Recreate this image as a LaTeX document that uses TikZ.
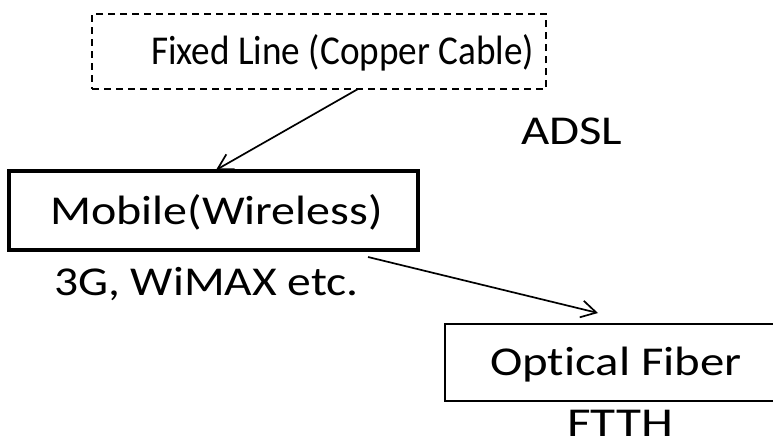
\documentclass[tikz,border=0pt]{standalone}
\usepackage{fontspec}
\setmainfont{Carlito}[Ligatures=NoCommon]
\usetikzlibrary{arrows.meta}
\newcommand{\hstretch}[2]{\scalebox{#1}[1]{#2}}
\begin{document}
\begin{tikzpicture}[x=1pt,y=-1pt,
  lbl/.style={anchor=base west,inner sep=0pt,font=\fontsize{41}{48}\selectfont},
  boxshape/.style={draw,inner sep=0pt},
  conn/.style={line width=1.7pt,-{Straight Barb[length=15pt,width=17pt,line width=1.7pt]}}]
\useasboundingbox (0,0) rectangle (773,442);
% boxes
\node[boxshape,line width=1.5pt,dash pattern=on 7pt off 5pt,minimum width=454pt,minimum height=75pt] (fixed) at (319,51.5) {};
\node[boxshape,line width=4pt,minimum width=409pt,minimum height=79pt] (mobile) at (213.5,210.5) {};
\node[boxshape,line width=1.6pt,minimum width=340pt,minimum height=77pt] (optical) at (615,362.5) {};
% texts
\node[lbl] (tfixed) at (151,64) {\hstretch{0.907}{Fixed Line (Copper Cable)}};
\node[lbl] (tadsl) at (521,144) {\hstretch{1.19}{ADSL}};
\node[lbl] (tmobile) at (50,224) {\hstretch{1.17}{Mobile(Wireless)}};
\node[lbl] (tmob2) at (54,295) {\hstretch{1.16}{3G, WiMAX etc.}};
\node[lbl] (toptical) at (490,375) {\hstretch{1.19}{Optical Fiber}};
\node[lbl] (tftth) at (567,436) {\hstretch{1.25}{FTTH}};
% connectors
\coordinate (a1s) at (358,89);
\coordinate (a1e) at (216,170);
\coordinate (a2s) at (368,257);
\coordinate (a2e) at (598,313);
\draw[conn] (a1s) -- (a1e);
\draw[conn] (a2s) -- (a2e);
\end{tikzpicture}
\end{document}
